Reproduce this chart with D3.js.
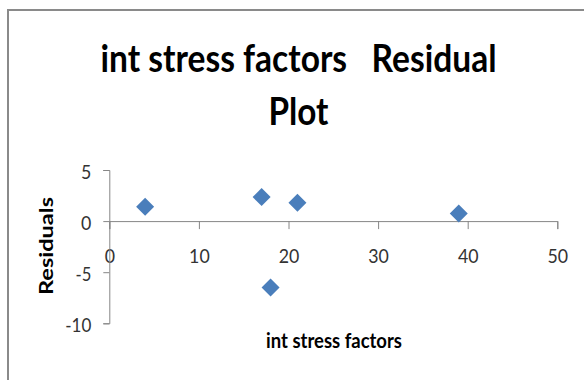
<!DOCTYPE html>
<html>
<head>
<meta charset="utf-8">
<script src="https://cdn.jsdelivr.net/npm/d3@7"></script>
<style>
  html, body { margin: 0; padding: 0; background: #fff; }
  svg { display: block; }
</style>
</head>
<body>
<svg id="chart" width="584" height="380"></svg>
<script>
// ---- data ----
const xValues = [4, 17, 18, 21, 39];
const residuals = [1.4, 2.35, -6.5, 1.8, 0.75];
const xTicks = [0, 10, 20, 30, 40, 50];
const yTicks = [-10, -5, 0, 5];
const titleLines = ["int stress factors   Residual", "Plot"];
const xAxisTitle = "int stress factors";
const yAxisTitle = "Residuals";

const svg = d3.select("#chart");
const font = "Lato, 'Open Sans', sans-serif";

// chart area border
svg.append("rect")
  .attr("x", 8).attr("y", 10)
  .attr("width", 600).attr("height", 400)
  .attr("fill", "#fff")
  .attr("stroke", "#8a8a8a").attr("stroke-width", 2);

const x = d3.scaleLinear().domain([0, 50]).range([109.3, 557.3]);
const y = d3.scaleLinear().domain([-10, 5]).range([323.3, 170]);

// title
svg.append("text")
  .attr("x", 298.5).attr("y", 72)
  .attr("text-anchor", "middle")
  .attr("font-family", font).attr("font-weight", 700)
  .attr("font-size", 38).attr("fill", "#000")
  .attr("textLength", 396).attr("lengthAdjust", "spacingAndGlyphs")
  .style("white-space", "pre")
  .text(titleLines[0]);
svg.append("text")
  .attr("x", 298.5).attr("y", 125)
  .attr("text-anchor", "middle")
  .attr("font-family", font).attr("font-weight", 700)
  .attr("font-size", 38).attr("fill", "#000")
  .attr("textLength", 60).attr("lengthAdjust", "spacingAndGlyphs")
  .text(titleLines[1]);

const axisColor = "#868686";
const fmt = d => String(d);               // plain hyphen-minus like the original
const labelLen = s => s.replace(/-/g, "").length * 10.3 + (s.includes("-") ? 5.5 : 0);

// x axis at y = 0
const xAxis = d3.axisBottom(x).tickValues(xTicks).tickSize(8).tickPadding(20).tickFormat(fmt);
const gx = svg.append("g").attr("transform", `translate(0,${y(0)})`).call(xAxis);
gx.select(".domain").attr("stroke", axisColor);
gx.selectAll(".tick line").attr("stroke", axisColor);
gx.selectAll(".tick text")
  .attr("font-family", font).attr("font-size", 20).attr("fill", "#333")
  .attr("textLength", d => labelLen(fmt(d))).attr("lengthAdjust", "spacingAndGlyphs");

// y axis at x = 0
const yAxis = d3.axisLeft(y).tickValues(yTicks).tickSize(6).tickPadding(12).tickFormat(fmt);
const gy = svg.append("g").attr("transform", `translate(${x(0)},0)`).call(yAxis);
gy.select(".domain").attr("stroke", axisColor);
gy.selectAll(".tick line").attr("stroke", axisColor);
gy.selectAll(".tick text")
  .attr("font-family", font).attr("font-size", 20).attr("fill", "#333")
  .attr("dy", "0.42em")
  .attr("textLength", d => labelLen(fmt(d))).attr("lengthAdjust", "spacingAndGlyphs");

// axis titles
svg.append("text")
  .attr("x", 334).attr("y", 348)
  .attr("text-anchor", "middle")
  .attr("font-family", font).attr("font-weight", 700)
  .attr("font-size", 20).attr("fill", "#000")
  .attr("textLength", 136).attr("lengthAdjust", "spacingAndGlyphs")
  .text(xAxisTitle);
svg.append("text")
  .attr("transform", "translate(53,246) rotate(-90)")
  .attr("text-anchor", "middle")
  .attr("font-family", font).attr("font-weight", 700)
  .attr("font-size", 19).attr("fill", "#000")
  .attr("textLength", 98).attr("lengthAdjust", "spacingAndGlyphs")
  .text(yAxisTitle);

// points
const points = xValues.map((v, i) => ({ x: v, y: residuals[i] }));
const diamond = d3.symbol().type(d3.symbolSquare).size(162);
svg.append("g").selectAll("path")
  .data(points)
  .join("path")
  .attr("d", diamond)
  .attr("transform", d => `translate(${x(d.x)},${y(d.y)}) rotate(45)`)
  .attr("fill", "#4a7ebb");
</script>
</body>
</html>
